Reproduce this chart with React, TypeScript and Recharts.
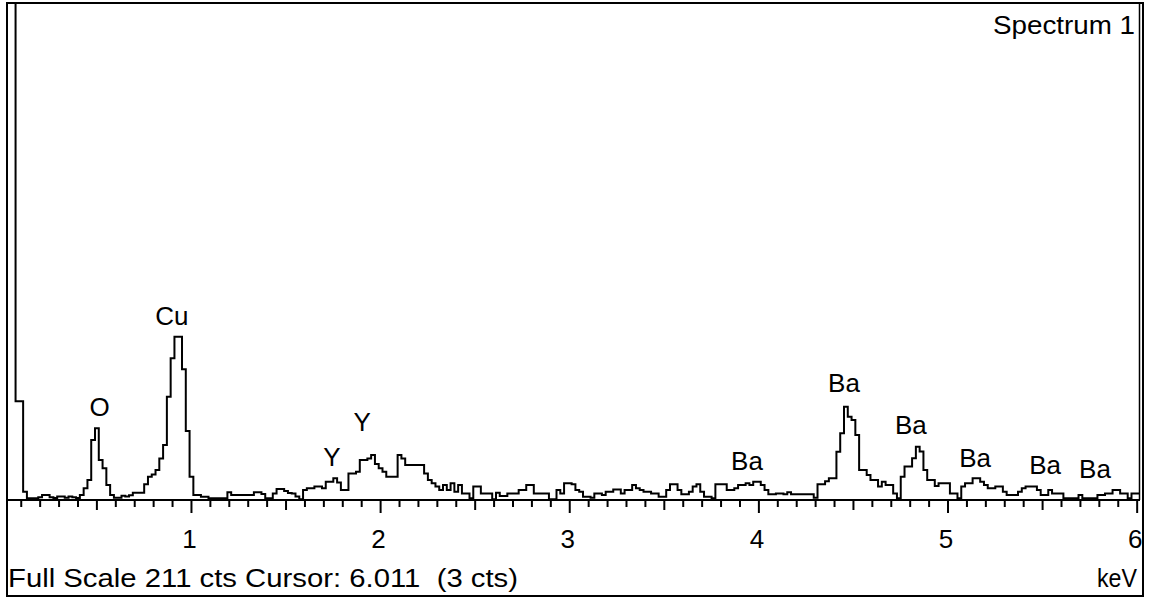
import React from 'react';
import { LineChart, Line, XAxis, YAxis, ReferenceDot } from 'recharts';

// Energy channels: 0.02 keV bins, first bin starts at 0.03 keV
const BIN_START_KEV = 0.03;
const BIN_WIDTH_KEV = 0.02;

// Counts per bin (cts)
const counts0to1keV = [
  400, 400, 42, 42, 3.5, 0.7, 0.7, 0.7, 1.2, 2.1,
  2.1, 1.2, 0.8, 1.5, 1.5, 1.0, 1.5, 1.2, 0.8, 2.1,
  5.0, 8.5, 25.5, 30.5, 17, 13.5, 6.4, 2.1, 1.0, 1.0,
  1.8, 1.5, 2.0, 3.1, 3.1, 3.1, 6.7, 9.9, 10.9, 12.8,
  17.7, 23.4, 43.9, 60.3, 69.5, 69.5, 55.6, 29.4, 9.9, 2.1,
];
const counts1to2keV = [
  2.1, 1.4, 1.4, 0.7, 0.7, 0.7, 0.7, 0.7, 3.3, 2.1,
  2.1, 2.1, 2.1, 2.1, 2.1, 3.3, 3.3, 2.5, 0.7, 0.7,
  2.8, 4.7, 4.7, 3.8, 3.0, 2.8, 1.5, 0.3, 4.3, 5.0,
  5.0, 5.7, 5.7, 5.0, 7.8, 7.8, 9.2, 7.4, 4.3, 4.3,
  11.3, 11.3, 12.0, 17.0, 17.0, 17.7, 19.1, 15.3, 13.5, 12.0,
];
const counts2to3keV = [
  9.9, 9.9, 9.9, 19.1, 17.7, 14.9, 14.9, 14.9, 14.9, 14.9,
  11.3, 8.5, 7.1, 5.7, 4.3, 6.4, 4.3, 7.1, 3.5, 6.4,
  2.8, 2.8, 0.7, 5.7, 5.7, 2.8, 2.8, 2.8, 0.3, 3.1,
  1.7, 1.7, 2.8, 2.8, 2.8, 4.3, 4.3, 6.4, 6.4, 2.8,
  2.8, 2.8, 2.8, 0.3, 0.3, 4.3, 2.8, 7.1, 7.1, 6.7,
];
const counts3to4keV = [
  4.3, 3.5, 1.4, 1.4, 1.0, 2.8, 2.8, 2.1, 3.5, 3.5,
  4.5, 4.5, 2.8, 4.3, 4.3, 6.4, 5.0, 4.3, 3.5, 3.5,
  2.8, 2.8, 1.4, 1.4, 4.3, 6.7, 6.7, 4.3, 2.4, 2.4,
  3.5, 5.7, 6.7, 3.5, 1.4, 1.4, 0.7, 6.7, 6.7, 6.7,
  4.3, 4.3, 5.0, 6.4, 6.4, 7.1, 6.4, 7.8, 7.8, 6.4,
];
const counts4to5keV = [
  4.3, 2.4, 2.4, 2.8, 2.8, 2.4, 3.3, 2.4, 2.4, 2.4,
  2.4, 2.4, 2.4, 1.0, 6.7, 6.7, 8.0, 9.2, 9.2, 20.5,
  28.4, 39.7, 35.4, 34, 27.6, 12.8, 12.8, 10.6, 8.5, 8.5,
  5.7, 7.8, 6.4, 6.4, 2.8, 0.7, 9.9, 14.2, 14.2, 17.8,
  22.7, 20.6, 12.8, 8.5, 8.5, 6.0, 7.1, 7.1, 7.1, 2.8,
];
const counts5to6keV = [
  2.8, 0.7, 5.7, 7.1, 7.1, 9.2, 9.2, 7.8, 6.4, 5.0,
  5.0, 5.7, 5.7, 3.5, 2.1, 2.1, 2.1, 3.5, 5.0, 5.7,
  5.7, 5.7, 4.3, 2.1, 2.1, 4.3, 2.8, 2.8, 2.8, 0.7,
  0.7, 0.7, 0.7, 2.1, 0.7, 0.7, 0.7, 0.7, 2.1, 2.1,
  2.8, 2.8, 4.3, 4.3, 2.8, 2.8, 0.7, 2.8, 2.8, 2.8,
];

// Peak identification labels (keV, cts position of label centre)
const peakLabelNames = ['O', 'Cu', 'Y', 'Y', 'Ba', 'Ba', 'Ba', 'Ba', 'Ba', 'Ba'];
const peakLabelKeV = [0.514, 0.897, 1.743, 1.902, 3.937, 4.45, 4.804, 5.143, 5.513, 5.777];
const peakLabelCts = [39.6, 78.3, 18.3, 33.2, 16.6, 49.8, 31.9, 17.9, 14.9, 13.2];

const energyTickValues = Array.from({ length: 60 }, (_, i) => (i + 1) / 10);
const majorTickLabels = ['1', '2', '3', '4', '5', '6'];

const FULL_SCALE = 211;
const X_DOMAIN: [number, number] = [0.03, 6.015];

const allCounts = [
  ...counts0to1keV,
  ...counts1to2keV,
  ...counts2to3keV,
  ...counts3to4keV,
  ...counts4to5keV,
  ...counts5to6keV,
];
const data = allCounts.map((c, i) => ({
  keV: Math.round((BIN_START_KEV + i * BIN_WIDTH_KEV) * 100) / 100,
  cts: c,
}));
data.push({
  keV: Math.round((BIN_START_KEV + allCounts.length * BIN_WIDTH_KEV) * 100) / 100,
  cts: allCounts[allCounts.length - 1],
});

const FONT = '"Liberation Sans", Arial, sans-serif';

const EnergyTick = (props: any) => {
  const { x, y, payload } = props;
  const v = payload.value as number;
  const nearest = Math.round(v);
  const isMajor = Math.abs(v - nearest) < 1e-6;
  const isHalf = !isMajor && Math.abs(v * 2 - Math.round(v * 2)) < 1e-6;
  const len = isMajor ? 13 : isHalf ? 10 : 7;
  return (
    <g>
      <line x1={x} x2={x} y1={y} y2={y + len} stroke="#000" strokeWidth={2} />
      {isMajor && (
        <text
          x={x - 2}
          y={y + 48}
          textAnchor="middle"
          fontFamily={FONT}
          fontSize={26}
          fill="#000"
        >
          {majorTickLabels[nearest - 1]}
        </text>
      )}
    </g>
  );
};

const makeLabelShape = (name: string) => (p: any) => (
  <text
    x={p.cx}
    y={p.cy}
    dy="0.36em"
    textAnchor="middle"
    fontFamily={FONT}
    fontSize={26}
    fill="#000"
  >
    {name}
  </text>
);

export default function App() {
  return (
    <div style={{ position: 'absolute', left: 0, top: 0, width: 1154, height: 599, background: '#fff' }}>
      <LineChart
        width={1154}
        height={599}
        data={data}
        margin={{ top: 4, right: 14, bottom: 0, left: 8 }}
      >
        <XAxis
          dataKey="keV"
          type="number"
          domain={X_DOMAIN}
          allowDataOverflow
          ticks={energyTickValues}
          interval={0}
          height={99}
          tickLine={false}
          tickSize={0}
          tickMargin={0}
          axisLine={{ stroke: '#000', strokeWidth: 2 }}
          tick={<EnergyTick />}
        />
        <YAxis type="number" domain={[0, FULL_SCALE]} allowDataOverflow hide />
        <Line
          type="stepAfter"
          dataKey="cts"
          stroke="#000"
          strokeWidth={2}
          dot={false}
          activeDot={false}
          isAnimationActive={false}
        />
        {peakLabelNames.map((name, i) => (
          <ReferenceDot
            key={i}
            x={peakLabelKeV[i]}
            y={peakLabelCts[i]}
            r={0}
            ifOverflow="visible"
            shape={makeLabelShape(name)}
          />
        ))}
      </LineChart>
      <svg
        width={1154}
        height={599}
        style={{ position: 'absolute', left: 0, top: 0, pointerEvents: 'none' }}
      >
        <rect x={7} y={3} width={1136} height={593} fill="none" stroke="#000" strokeWidth={2} />
        <line x1={1139.5} x2={1139.5} y1={4} y2={500} stroke="#000" strokeWidth={1.5} />
        <text
          x={1135}
          y={34}
          textAnchor="end"
          fontFamily={FONT}
          fontSize={26}
          textLength={142}
          lengthAdjust="spacingAndGlyphs"
          fill="#000"
        >
          Spectrum 1
        </text>
        <text
          x={8}
          y={587}
          fontFamily={FONT}
          fontSize={26}
          textLength={510}
          lengthAdjust="spacingAndGlyphs"
          fill="#000"
          style={{ whiteSpace: 'pre' }}
        >
          {'Full Scale 211 cts Cursor: 6.011  (3 cts)'}
        </text>
        <text
          x={1137}
          y={587}
          textAnchor="end"
          fontFamily={FONT}
          fontSize={26}
          textLength={40}
          lengthAdjust="spacingAndGlyphs"
          fill="#000"
        >
          keV
        </text>
      </svg>
    </div>
  );
}
